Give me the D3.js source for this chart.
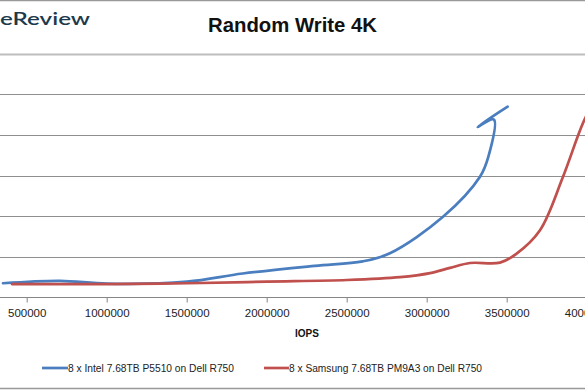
<!DOCTYPE html>
<html><head><meta charset="utf-8">
<script src="https://cdn.jsdelivr.net/npm/d3@7"></script>
<style>html,body{margin:0;padding:0;background:#fff;overflow:hidden}</style>
</head><body>
<script>
// ---- data ----
const xTicks = [500000, 1000000, 1500000, 2000000, 2500000, 3000000, 3500000, 4000000];
const yTicks = [0, 1, 2, 3, 4, 5, 6];
const seriesNames = ["8 x Intel 7.68TB P5510 on Dell R750", "8 x Samsung 7.68TB PM9A3 on Dell R750"];
const intelIops = [352000, 708000, 1002000, 1502000, 1850000, 2300000, 2600000, 2770000, 3102000, 3333000, 3385000, 3420000, 3318000, 3506000];
const intelLat  = [0.34, 0.40, 0.33, 0.38, 0.58, 0.77, 0.88, 1.08, 1.98, 2.97, 3.46, 4.38, 4.20, 4.70];
const samsungIops = [408000, 1002000, 1502000, 2002000, 2502000, 2833000, 3021000, 3146000, 3271000, 3458000, 3558000, 3708000, 3852000, 3990000, 4080000];
const samsungLat  = [0.32, 0.32, 0.34, 0.38, 0.42, 0.49, 0.59, 0.72, 0.84, 0.85, 1.06, 1.65, 2.97, 4.41, 5.00];
const colors = ["#4a7ebf", "#c0504d"];

const W = 585, H = 390;
const svg = d3.select("body").append("svg").attr("width", W).attr("height", H)
  .style("font-family", "'Liberation Sans', Arial, sans-serif");

const x = d3.scaleLinear().domain([0, 4000000]).range([-53.3, 586.7]);
const y = d3.scaleLinear().domain([0, 6]).range([297, 54]);

// borders
svg.append("line").attr("x1", 0).attr("x2", W).attr("y1", 0.5).attr("y2", 0.5).attr("stroke", "#999").attr("stroke-width", 1.5);
svg.append("line").attr("x1", 0).attr("x2", W).attr("y1", 388.5).attr("y2", 388.5).attr("stroke", "#999").attr("stroke-width", 1.5);

// logo fragment
svg.append("text").attr("x", 0).attr("y", 25).text("eReview")
  .attr("font-family", "Lato, 'Open Sans', sans-serif").attr("font-size", 18).attr("font-weight", 600)
  .attr("fill", "#1d3a4c").attr("textLength", 90).attr("lengthAdjust", "spacingAndGlyphs");

// title
svg.append("text").attr("x", 292.5).attr("y", 32).attr("text-anchor", "middle")
  .attr("font-size", 20).attr("font-weight", "bold").attr("fill", "#111")
  .attr("textLength", 169).attr("lengthAdjust", "spacingAndGlyphs").text("Random Write 4K");

// gridlines
svg.append("g").selectAll("line").data(yTicks.filter(d => d > 0)).join("line")
  .attr("x1", 0).attr("x2", W)
  .attr("y1", d => Math.round(y(d)) + 0.5).attr("y2", d => Math.round(y(d)) + 0.5)
  .attr("stroke", d => d === 6 ? "#bdbdbd" : "#8f8f8f").attr("stroke-width", d => d === 6 ? 2 : 1);

// x axis
const xAxis = d3.axisBottom(x).tickValues(xTicks).tickSize(5).tickSizeOuter(0).tickPadding(6).tickFormat(d3.format("d"));
const gx = svg.append("g").attr("transform", "translate(0,297.5)").call(xAxis);
gx.select(".domain").attr("stroke", "#868686").attr("d", `M0,0H${W}`);
gx.selectAll(".tick line").attr("stroke", "#868686");
gx.selectAll(".tick text").attr("font-size", 11.5).attr("fill", "#222").attr("font-family", "'Liberation Sans', Arial, sans-serif");

svg.append("text").attr("x", 307).attr("y", 337).attr("text-anchor", "middle")
  .attr("font-size", 10).attr("font-weight", "bold").attr("fill", "#111").text("IOPS");

// lines
const line = d3.line().x(d => x(d[0])).y(d => y(d[1])).curve(d3.curveCatmullRom.alpha(0.5));
const series = [d3.zip(intelIops, intelLat), d3.zip(samsungIops, samsungLat)];
svg.append("g").selectAll("path").data(series).join("path")
  .attr("d", line).attr("fill", "none")
  .attr("stroke", (d, i) => colors[i]).attr("stroke-width", 2.7)
  .attr("stroke-linecap", "round").attr("stroke-linejoin", "round");

// legend
const leg = [{x1: 42, x2: 68, tx: 68, tl: 166}, {x1: 264, x2: 289, tx: 289, tl: 193}];
leg.forEach((l, i) => {
  svg.append("line").attr("x1", l.x1).attr("x2", l.x2).attr("y1", 368).attr("y2", 368)
    .attr("stroke", colors[i]).attr("stroke-width", 2.7);
  svg.append("text").attr("x", l.tx).attr("y", 371.5).attr("font-size", 11).attr("fill", "#222")
    .attr("textLength", l.tl).attr("lengthAdjust", "spacingAndGlyphs").text(seriesNames[i]);
});
</script>
</body></html>
